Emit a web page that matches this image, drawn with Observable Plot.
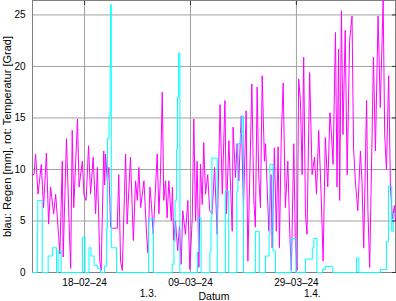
<!DOCTYPE html>
<html><head><meta charset="utf-8">
<script src="https://cdn.jsdelivr.net/npm/d3@7"></script>
<script src="https://cdn.jsdelivr.net/npm/@observablehq/plot@0.6"></script>
<style>body{margin:0;background:#fff;} svg{display:block;}</style>
</head><body><div id="chart"></div>
<script>
const year = "2024";
const tempTime = ["02-08 04","02-08 11","02-08 18","02-09 05","02-09 20","02-10 06","02-10 19","02-11 05","02-11 14","02-12 04","02-12 13","02-13 02","02-13 08","02-13 19","02-13 23","02-14 14","02-15 01","02-15 09","02-15 16","02-15 23","02-16 16","02-16 23","02-17 14","02-17 21","02-18 07","02-18 18","02-19 03","02-19 15","02-20 02","02-20 10","02-20 21","02-21 03","02-21 15","02-21 19","02-21 23","02-22 07","02-22 14","02-22 22","02-23 07","02-24 04","02-24 11","02-24 19","02-25 03","02-25 18","02-26 01","02-26 16","02-27 05","02-27 15","02-27 23","02-28 06","02-28 14","02-29 05","02-29 17","02-29 23","03-01 08","03-01 15","03-01 23","03-02 17","03-03 01","03-03 08","03-03 16","03-03 23","03-04 07","03-04 14","03-04 22","03-05 09","03-05 14","03-05 20","03-06 04","03-06 14","03-06 22","03-07 06","03-07 13","03-08 01","03-08 12","03-08 21","03-09 08","03-09 15","03-09 23","03-10 06","03-10 14","03-10 21","03-11 05","03-11 12","03-11 20","03-12 06","03-12 15","03-13 02","03-13 13","03-14 01","03-14 14","03-15 00","03-15 12","03-15 19","03-16 06","03-16 21","03-17 01","03-17 12","03-17 19","03-18 03","03-18 14","03-19 00","03-19 12","03-19 20","03-20 14","03-20 23","03-21 06","03-21 14","03-21 21","03-22 05","03-22 13","03-22 23","03-23 04","03-23 19","03-24 05","03-24 10","03-24 20","03-25 05","03-25 13","03-25 19","03-26 03","03-26 12","03-26 22","03-27 09","03-27 18","03-28 01","03-28 12","03-28 19","03-29 03","03-29 10","03-29 18","03-30 02","03-30 09","03-30 17","03-31 00","03-31 12","03-31 23","04-01 10","04-01 19","04-02 05","04-02 16","04-03 01","04-03 11","04-03 22","04-04 08","04-04 15","04-04 22","04-05 09","04-05 16","04-05 23","04-06 04","04-06 12","04-06 19","04-07 05","04-07 14","04-08 01","04-08 12","04-08 19","04-09 03","04-09 14","04-10 02","04-10 09","04-10 17","04-11 06","04-11 12","04-11 20","04-12 07","04-12 13","04-12 22","04-13 10","04-13 20","04-14 09","04-14 16","04-15 00","04-15 10","04-15 18","04-16 03","04-16 12","04-16 17"];
const tempValue = [9.5,9.5,11.5,7.6,10.5,6.3,11.6,4.7,8.3,5.7,7.6,3.7,1.8,10.8,1.5,13.0,5.3,0.4,13.8,6.3,14.9,8.3,10.8,7.6,7.0,12.3,7.6,11.2,5.7,10.2,1.1,0.2,11.8,8.5,11.5,8.9,10.2,4.4,4.3,4.3,9.5,1.1,0.2,11.5,4.7,11.2,3.1,8.9,7.0,10.2,6.3,8.9,3.7,1.9,8.3,6.6,3.7,11.5,5.7,9.5,17.5,7.0,8.9,5.3,8.9,5.0,8.3,3.1,5.0,2.1,4.5,0.8,6.0,3.7,7.0,0.3,5.3,14.9,5.0,10.8,0.5,10.5,6.6,12.6,7.6,9.5,6.0,5.7,10.2,3.7,16.3,7.6,16.7,5.7,12.8,4.0,14.1,9.2,12.5,8.9,15.2,6.3,15.7,1.1,18.3,7.0,4.4,18.0,9.5,6.3,19.1,10.8,12.5,4.0,9.5,2.4,12.1,4.0,12.2,2.4,12.8,18.4,6.3,10.8,3.7,0.2,12.5,3.1,0.2,18.8,16.7,9.5,20.9,5.7,3.7,19.4,9.5,11.2,7.6,13.8,7.6,1.1,13.1,8.3,15.5,13.4,10.5,23.3,8.3,21.7,7.0,25.4,13.4,23.5,9.5,22.5,24.9,12.1,8.9,6.0,11.8,8.9,2.4,16.7,6.0,0.5,13.4,20.9,11.8,24.9,16.0,26.4,13.4,10.0,19.1,8.3,5.2,6.5,5.0];
const rainTime = ["02-08 04","02-09 02","02-09 04","02-10 00","02-11 03","02-11 23","02-12 17","02-13 00","02-13 14","02-17 14","02-18 02","02-18 20","02-19 05","02-19 19","02-20 11","02-21 00","02-21 18","02-22 04","02-22 08","02-22 15","02-22 20","02-22 22","02-23 01","02-24 01","03-01 02","03-02 00","03-05 13","03-05 21","03-06 02","03-06 09","03-06 13","03-06 18","03-07 00","03-10 08","03-10 12","03-11 00","03-12 16","03-12 21","03-13 01","03-14 01","03-15 14","03-16 05","03-17 18","03-17 23","03-18 10","03-18 17","03-19 00","03-21 06","03-22 00","03-23 04","03-23 20","03-24 00","03-24 14","03-25 01","03-28 00","03-28 22","03-30 17","04-01 00","04-01 07","04-01 21","04-02 22","04-03 11","04-04 21","04-09 08","04-09 19","04-13 21","04-15 00","04-15 09","04-16 00","04-16 07","04-16 17"];
const rainValue = [0,4.0,7.0,0,1.6,2.4,0,2.1,0,3.4,0,2.4,1.6,0.7,0.4,0,0.6,4.3,13.0,15.2,20.0,26.0,2.4,0,5.2,0,0.8,3.0,7.0,12.0,17.0,21.3,0,2.0,5.3,0,2.0,5.3,11.1,0,7.9,0,7.9,12.5,13.5,15.2,0,4.0,0,1.6,3.7,10.5,2.1,0,3.3,0,1.3,2.4,3.3,0,0.3,0.6,0,1.4,0,0.3,3.0,8.4,4.0,5.7,5.7];
const dateTicks = ["2024-02-18","2024-03-09","2024-03-29"];
const monthTicks = ["2024-03-01","2024-04-01"];
const yTicks = [0,5,10,15,20,25];
const yLabel = "blau: Regen [mm], rot: Temperatur [Grad]";
const xLabel = "Datum";

const parseHour = d3.utcParse("%Y-%m-%d %H");
const parseDay = d3.utcParse("%Y-%m-%d");
const temp = tempTime.map((t, i) => ({date: parseHour(year + "-" + t), value: tempValue[i]}));
const rain = rainTime.map((t, i) => ({date: parseHour(year + "-" + t), value: rainValue[i]}));
const dayDates = dateTicks.map(parseDay);
const monthDates = monthTicks.map(parseDay);
const all = temp.concat(rain);

const chart = Plot.plot({
  width: 396, height: 301,
  marginLeft: 32, marginRight: 1, marginTop: 0, marginBottom: 29,
  style: {fontFamily: "'Liberation Sans', Arial, sans-serif", fontSize: "10px", background: "#fff", color: "#000"},
  x: {type: "utc", domain: d3.extent(all, d => d.date), axis: null},
  y: {domain: [0, d3.max(all, d => d.value)], axis: null},
  marks: [
    Plot.gridX(dayDates, {stroke: "#a0a0a0", strokeOpacity: 1}),
    Plot.gridY(yTicks, {stroke: "#a0a0a0", strokeOpacity: 1}),
    Plot.frame({stroke: "#808080"}),
    Plot.line(temp, {x: "date", y: "value", stroke: "#ff00ff", strokeWidth: 1}),
    Plot.line(rain, {x: "date", y: "value", stroke: "#00ffff", strokeWidth: 1, curve: "step-after"}),
    Plot.axisX(dayDates, {tickFormat: d3.utcFormat("%d–%m–%y"), tickSize: 0, tickPadding: 6, label: null}),
    Plot.axisX(monthDates, {tickFormat: d3.utcFormat("%-d.%-m."), tickSize: 0, tickPadding: 17, label: null}),
    Plot.axisX(dayDates, {anchor: "top", tickSize: -4, tickFormat: () => "", label: null, stroke: "#333"}),
    Plot.axisY(yTicks, {tickSize: 0, tickPadding: 7, label: null}),
    Plot.axisY(yTicks, {anchor: "right", tickSize: -4, tickFormat: () => "", label: null, stroke: "#333"}),
    Plot.text([yLabel], {frameAnchor: "left", textAnchor: "middle", rotate: -90, dx: -25, fontSize: 11}),
    Plot.text([xLabel], {frameAnchor: "bottom", textAnchor: "middle", lineAnchor: "bottom", dy: 27, fontSize: 10.5})
  ]
});
document.getElementById("chart").appendChild(chart);
</script>
</body></html>
